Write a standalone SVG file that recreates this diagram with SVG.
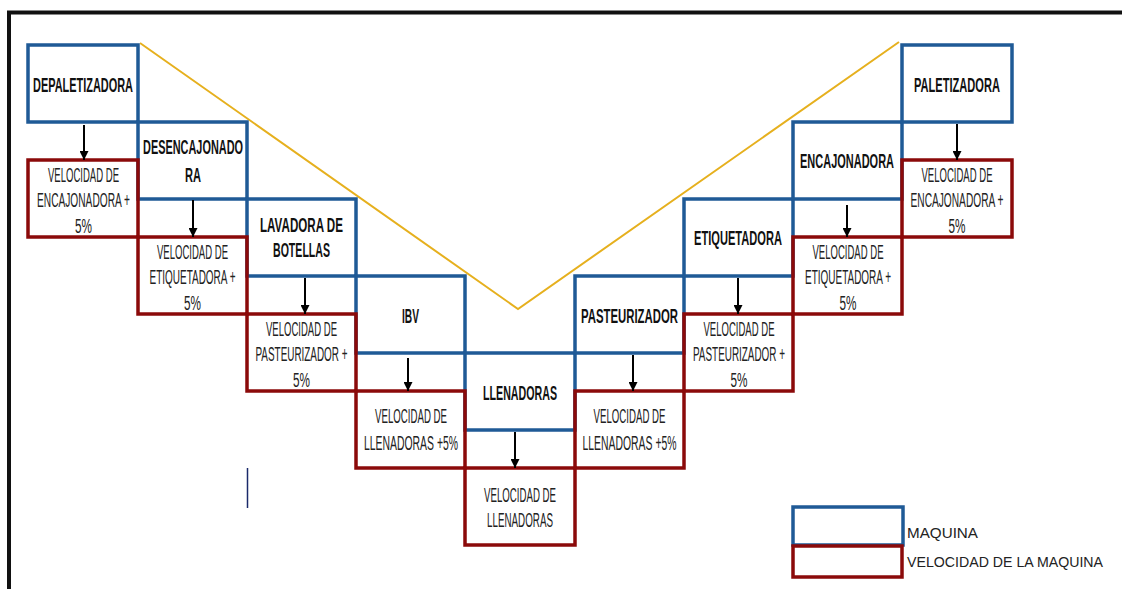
<svg xmlns="http://www.w3.org/2000/svg" width="1122" height="589" viewBox="0 0 1122 589">
  <defs>
    <style>
      .frame { fill: none; stroke: #111; stroke-width: 4; }
      .maq { fill: #fff; stroke: #1F5A96; stroke-width: 3.5; }
      .vel { fill: none; stroke: #8B0A0A; stroke-width: 3.5; }
      .flow { fill: none; stroke: #E6B01E; stroke-width: 2; }
      .arrow { stroke: #000; stroke-width: 2; marker-end: url(#head); }
      .lbl { font-family: "Liberation Sans Narrow", "Liberation Sans", sans-serif; font-weight: bold; font-size: 20px; fill: #111; text-anchor: middle; }
      .sp { font-family: "Liberation Sans Narrow", "Liberation Sans", sans-serif; font-size: 20px; fill: #222; text-anchor: middle; }
      .leg { font-family: "Liberation Sans", sans-serif; font-size: 15px; fill: #222; }
    </style>
    <marker id="head" markerUnits="userSpaceOnUse" markerWidth="9" markerHeight="9" refX="9" refY="4.5" orient="auto">
      <path d="M0,0 L9,4.5 L0,9 z" fill="#000"/>
    </marker>
  </defs>

  <rect width="1122" height="589" fill="#fff"/>
  <!-- page frame -->
  <path class="frame" d="M9,589 V12.5 H1122"/>
  <line x1="247.5" y1="468" x2="247.5" y2="508" stroke="#1a2a6a" stroke-width="1.5"/>

  <!-- V-shaped flow guide -->
  <polyline class="flow" points="140,43 518,309 899,42"/>

  <!-- machines -->
  <g id="depaletizadora"><rect class="maq" x="28" y="45" width="110" height="77"/>
    <text class="lbl" x="83" y="92" textLength="100" lengthAdjust="spacingAndGlyphs">DEPALETIZADORA</text></g>
  <g id="desencajonadora"><rect class="maq" x="138" y="122" width="109" height="77"/>
    <text class="lbl" x="193" y="154" textLength="100" lengthAdjust="spacingAndGlyphs">DESENCAJONADO</text>
    <text class="lbl" x="193" y="182" textLength="16" lengthAdjust="spacingAndGlyphs">RA</text></g>
  <g id="lavadora"><rect class="maq" x="247" y="199" width="109" height="77"/>
    <text class="lbl" x="301.5" y="232" textLength="83" lengthAdjust="spacingAndGlyphs">LAVADORA  DE</text>
    <text class="lbl" x="301.5" y="257" textLength="57" lengthAdjust="spacingAndGlyphs">BOTELLAS</text></g>
  <g id="ibv"><rect class="maq" x="356" y="276" width="109" height="77"/>
    <text class="lbl" x="410.5" y="323" textLength="17" lengthAdjust="spacingAndGlyphs">IBV</text></g>
  <g id="llenadoras"><rect class="maq" x="465" y="353" width="110" height="77"/>
    <text class="lbl" x="520" y="400" textLength="74" lengthAdjust="spacingAndGlyphs">LLENADORAS</text></g>
  <g id="pasteurizador"><rect class="maq" x="575" y="276" width="109" height="77"/>
    <text class="lbl" x="629.5" y="323" textLength="97" lengthAdjust="spacingAndGlyphs">PASTEURIZADOR</text></g>
  <g id="etiquetadora"><rect class="maq" x="684" y="199" width="109" height="77"/>
    <text class="lbl" x="738" y="245" textLength="88" lengthAdjust="spacingAndGlyphs">ETIQUETADORA</text></g>
  <g id="encajonadora"><rect class="maq" x="793" y="122" width="109" height="77"/>
    <text class="lbl" x="847" y="168" textLength="94" lengthAdjust="spacingAndGlyphs">ENCAJONADORA</text></g>
  <g id="paletizadora"><rect class="maq" x="902" y="45" width="110" height="77"/>
    <text class="lbl" x="957" y="92" textLength="86" lengthAdjust="spacingAndGlyphs">PALETIZADORA</text></g>

  <!-- machine speeds -->
  <g id="vel-depaletizadora"><rect class="vel" x="28" y="160" width="110" height="77"/>
    <text class="sp" x="83.5" y="182" textLength="71" lengthAdjust="spacingAndGlyphs">VELOCIDAD DE</text>
    <text class="sp" x="83.5" y="207" textLength="93" lengthAdjust="spacingAndGlyphs">ENCAJONADORA +</text>
    <text class="sp" x="83.5" y="233" textLength="17" lengthAdjust="spacingAndGlyphs">5%</text></g>
  <g id="vel-desencajonadora"><rect class="vel" x="138" y="237" width="109" height="77"/>
    <text class="sp" x="192.5" y="259" textLength="71" lengthAdjust="spacingAndGlyphs">VELOCIDAD DE</text>
    <text class="sp" x="192.5" y="284" textLength="86" lengthAdjust="spacingAndGlyphs">ETIQUETADORA +</text>
    <text class="sp" x="192.5" y="310" textLength="17" lengthAdjust="spacingAndGlyphs">5%</text></g>
  <g id="vel-lavadora"><rect class="vel" x="247" y="314" width="109" height="77"/>
    <text class="sp" x="301.5" y="336" textLength="71" lengthAdjust="spacingAndGlyphs">VELOCIDAD DE</text>
    <text class="sp" x="301.5" y="361" textLength="92" lengthAdjust="spacingAndGlyphs">PASTEURIZADOR +</text>
    <text class="sp" x="301.5" y="387" textLength="17" lengthAdjust="spacingAndGlyphs">5%</text></g>
  <g id="vel-ibv"><rect class="vel" x="356" y="391" width="109" height="77"/>
    <text class="sp" x="411" y="423" textLength="72" lengthAdjust="spacingAndGlyphs">VELOCIDAD DE</text>
    <text class="sp" x="411" y="450" textLength="94" lengthAdjust="spacingAndGlyphs">LLENADORAS +5%</text></g>
  <g id="vel-llenadoras"><rect class="vel" x="465" y="468" width="110" height="77"/>
    <text class="sp" x="520" y="502" textLength="72" lengthAdjust="spacingAndGlyphs">VELOCIDAD DE</text>
    <text class="sp" x="520" y="527" textLength="66" lengthAdjust="spacingAndGlyphs">LLENADORAS</text></g>
  <g id="vel-pasteurizador"><rect class="vel" x="575" y="391" width="109" height="77"/>
    <text class="sp" x="629.5" y="423" textLength="72" lengthAdjust="spacingAndGlyphs">VELOCIDAD DE</text>
    <text class="sp" x="629.5" y="450" textLength="94" lengthAdjust="spacingAndGlyphs">LLENADORAS +5%</text></g>
  <g id="vel-etiquetadora"><rect class="vel" x="684" y="314" width="109" height="77"/>
    <text class="sp" x="739" y="336" textLength="71" lengthAdjust="spacingAndGlyphs">VELOCIDAD DE</text>
    <text class="sp" x="739" y="361" textLength="92" lengthAdjust="spacingAndGlyphs">PASTEURIZADOR +</text>
    <text class="sp" x="739" y="387" textLength="17" lengthAdjust="spacingAndGlyphs">5%</text></g>
  <g id="vel-encajonadora"><rect class="vel" x="793" y="237" width="109" height="77"/>
    <text class="sp" x="848" y="259" textLength="71" lengthAdjust="spacingAndGlyphs">VELOCIDAD DE</text>
    <text class="sp" x="848" y="284" textLength="86" lengthAdjust="spacingAndGlyphs">ETIQUETADORA +</text>
    <text class="sp" x="848" y="310" textLength="17" lengthAdjust="spacingAndGlyphs">5%</text></g>
  <g id="vel-paletizadora"><rect class="vel" x="902" y="160" width="110" height="77"/>
    <text class="sp" x="957" y="182" textLength="71" lengthAdjust="spacingAndGlyphs">VELOCIDAD DE</text>
    <text class="sp" x="957" y="207" textLength="93" lengthAdjust="spacingAndGlyphs">ENCAJONADORA +</text>
    <text class="sp" x="957" y="233" textLength="17" lengthAdjust="spacingAndGlyphs">5%</text></g>

  <!-- connectors: machine to its speed -->
  <g id="connectors">
    <line class="arrow" x1="84" y1="125" x2="84" y2="160"/>
    <line class="arrow" x1="193" y1="200" x2="193" y2="237"/>
    <line class="arrow" x1="305" y1="278" x2="305" y2="314"/>
    <line class="arrow" x1="408" y1="358" x2="408" y2="391"/>
    <line class="arrow" x1="515" y1="432" x2="515" y2="468"/>
    <line class="arrow" x1="633" y1="355" x2="633" y2="391"/>
    <line class="arrow" x1="738" y1="278" x2="738" y2="314"/>
    <line class="arrow" x1="847" y1="205" x2="847" y2="237"/>
    <line class="arrow" x1="957" y1="124" x2="957" y2="160"/>
  </g>

  <!-- legend -->
  <g id="legend">
    <rect class="maq" x="793" y="507" width="110" height="38"/>
    <rect class="vel" x="793" y="546" width="109" height="31"/>
    <text class="leg" x="907" y="538" textLength="71" lengthAdjust="spacingAndGlyphs">MAQUINA</text>
    <text class="leg" x="907" y="567" textLength="196" lengthAdjust="spacingAndGlyphs">VELOCIDAD DE LA MAQUINA</text>
  </g>
</svg>
